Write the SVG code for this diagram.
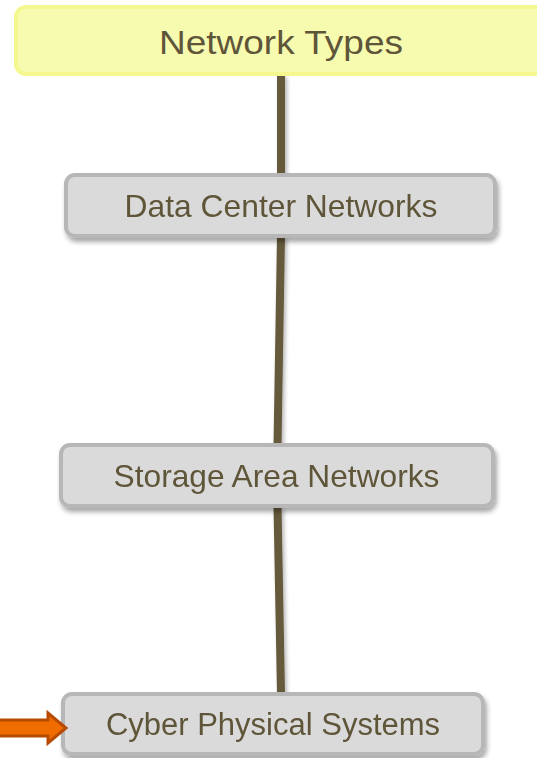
<svg xmlns="http://www.w3.org/2000/svg" width="537" height="758" viewBox="0 0 537 758">
  <defs>
    <filter id="shadow" x="-10%" y="-30%" width="125%" height="180%">
      <feGaussianBlur in="SourceAlpha" stdDeviation="2.5"/>
      <feOffset dx="2" dy="4" result="b"/>
      <feComponentTransfer><feFuncA type="linear" slope="0.35"/></feComponentTransfer>
      <feMerge><feMergeNode/><feMergeNode in="SourceGraphic"/></feMerge>
    </filter>
    <filter id="lineShadow" filterUnits="userSpaceOnUse" x="0" y="0" width="537" height="758">
      <feGaussianBlur in="SourceAlpha" stdDeviation="2"/>
      <feOffset dx="2" dy="3" result="b"/>
      <feComponentTransfer><feFuncA type="linear" slope="0.3"/></feComponentTransfer>
      <feMerge><feMergeNode/><feMergeNode in="SourceGraphic"/></feMerge>
    </filter>
  </defs>
  <style>
    .box { fill: #dadada; stroke: #b7b7b7; stroke-width: 4; }
    .title { fill: #f7fbb0; stroke: #f4f88f; stroke-width: 4; }
    .lbl { font-family: "Liberation Sans", Arial, sans-serif; font-size: 31px; fill: #5f5539; text-anchor: middle; }
    .conn { stroke: #655a3a; stroke-width: 8; fill: none; }
  </style>
  <rect width="537" height="758" fill="#ffffff"/>
  <g id="connectors" filter="url(#lineShadow)">
    <line class="conn" x1="281" y1="74" x2="281" y2="175"/>
    <line class="conn" x1="281" y1="236" x2="277.5" y2="446"/>
    <line class="conn" x1="277.5" y1="506" x2="281" y2="694"/>
  </g>
  <g id="node-network-types">
    <rect class="title" x="16" y="7" width="540" height="67" rx="10"/>
    <text class="lbl" x="281" y="54" textLength="244" lengthAdjust="spacingAndGlyphs" style="font-size:33px">Network Types</text>
  </g>
  <g id="node-data-center" filter="url(#shadow)">
    <rect class="box" x="66" y="175" width="429" height="61" rx="9"/>
    <text class="lbl" x="281" y="217" style="font-size:31.8px">Data Center Networks</text>
  </g>
  <g id="node-storage" filter="url(#shadow)">
    <rect class="box" x="61" y="445" width="432" height="61" rx="9"/>
    <text class="lbl" x="276.5" y="487" style="font-size:31.7px">Storage Area Networks</text>
  </g>
  <g id="node-cyber" filter="url(#shadow)">
    <rect class="box" x="63" y="694" width="420" height="60" rx="9"/>
    <text class="lbl" x="273" y="735">Cyber Physical Systems</text>
  </g>
  <g id="pointer-arrow">
    <path d="M -5,720 H 48 V 713 L 66,728 L 48,743 V 736 H -5 Z" fill="#ef6c00" stroke="#b64a00" stroke-width="3" stroke-linejoin="miter"/>
  </g>
</svg>
